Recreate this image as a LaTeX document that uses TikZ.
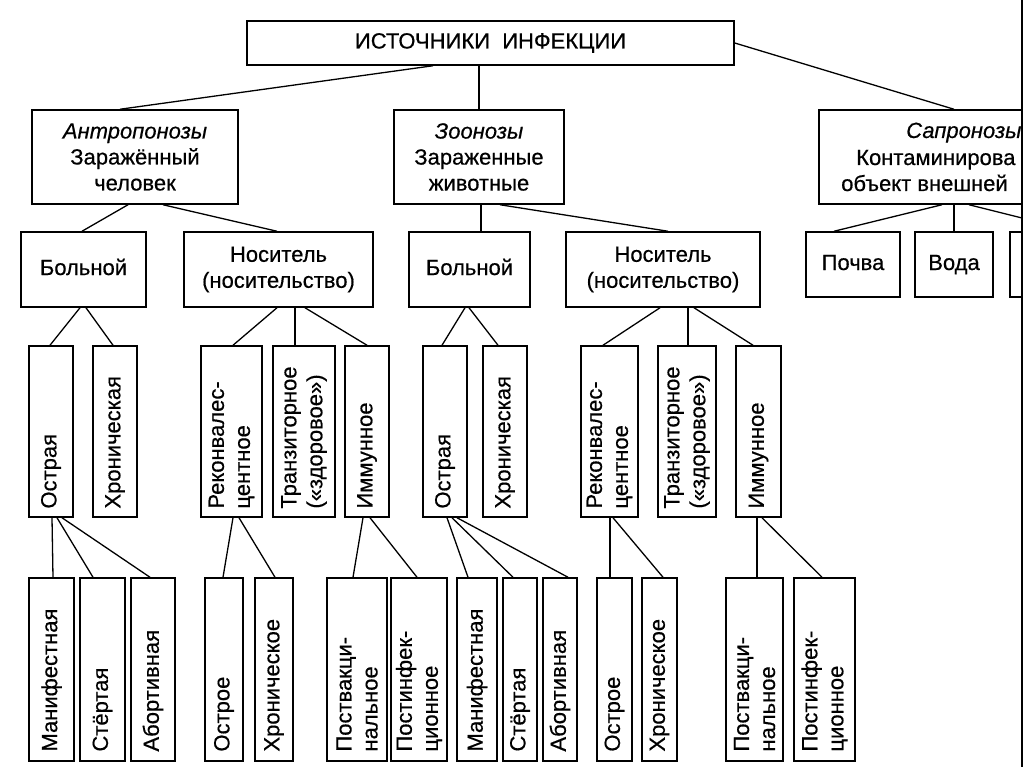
\documentclass[tikz,border=0pt]{standalone}
\usepackage{fontspec}
\setmainfont{Liberation Sans}[UprightFeatures={FakeBold=0.5}, ItalicFeatures={FakeBold=0.5}]
\usetikzlibrary{calc}
\newcommand\myfs{\fontsize{22}{26}\selectfont}
\newcommand\mkbox[6][]{\node[bx, #1, minimum width={#4-#2}, minimum height={#5-#3}] (#2) at ({(#3+#5)/2},{(#4+#6)/2}) {};}
\newcommand\mkhbox[7][]{\node[bx, #1, minimum width={#5-#3}, minimum height={#6-#4}] (#2) at ({(#3+#5)/2},{(#4+#6)/2}) {#7};}
\newcommand\mkvbox[7]{\node[bx, minimum width={#4-#2}, minimum height={#5-#3}] (#1) at ({(#2+#4)/2},{(#3+#5)/2}) {};
  \node[vt] (#1-t) at ([yshift=#7pt]#1.south) {#6};}
\newcommand\conn[4]{\draw[ln] (#1.south -| #2,0) -- (#3.north -| #4,0);}
\tikzset{
  bx/.style={draw, line width=1.5pt, inner sep=0pt, align=center, font=\myfs},
  one/.style={text height=16pt, text depth=5pt},
  vt/.style={rotate=90, anchor=west, align=left, inner sep=0pt, font=\myfs},
  ln/.style={line width=1.3pt},
  tx/.style={anchor=base west, inner sep=0pt, font=\myfs},
}
\begin{document}
\begin{tikzpicture}[x=1pt,y=-1pt]
\useasboundingbox (0,0) rectangle (1024,767);
\begin{scope}
\clip (0,0) rectangle (1021,767);
% level 0
\mkhbox[one]{top}{247}{21}{734}{65}{ИСТОЧНИКИ\ \ ИНФЕКЦИИ}
% level 1
\mkhbox{ant}{32}{110}{238}{204}{\textit{Антропонозы}\\Заражённый\\человек}
\mkhbox{zoo}{394}{110}{564}{204}{\textit{Зоонозы}\\Зараженные\\животные}
\mkhbox{sap}{819}{110}{1100}{204}{}
\node[tx] (sap-a) at (906,138) {\textit{Сапронозы}};
\node[tx] (sap-b) at (856,165) {Контаминирова};
\node[tx] (sap-c) at (841,191) {объект внешней};
% level 2
\mkhbox[one]{bol1}{21}{232}{146}{307}{Больной}
\mkhbox{nos1}{184}{232}{373}{307}{Носитель\\(носительство)}
\mkhbox[one]{bol2}{409}{232}{530}{307}{Больной}
\mkhbox{nos2}{566}{232}{760}{307}{Носитель\\(носительство)}
\mkhbox[one]{poch}{806}{232}{900}{297}{Почва}
\mkhbox[one]{voda}{915}{232}{993}{297}{Вода}
\mkhbox{sap3}{1010}{232}{1100}{297}{}
% level 3
\mkvbox{ostr1}{29}{346}{73}{517}{Острая}{9}
\mkvbox{hron1}{93}{346}{137}{517}{Хроническая}{9}
\mkvbox{rek1}{201}{346}{262}{517}{Реконвалес-\\центное}{9}
\mkvbox{tr1}{273}{346}{335}{517}{Транзиторное\\(«здоровое»)}{9}
\mkvbox{imm1}{345}{346}{389}{517}{Иммунное}{9}
\mkvbox{ostr2}{423}{346}{467}{517}{Острая}{9}
\mkvbox{hron2}{483}{346}{527}{517}{Хроническая}{9}
\mkvbox{rek2}{581}{346}{638}{517}{Реконвалес-\\центное}{9}
\mkvbox{tr2}{658}{346}{716}{517}{Транзиторное\\(«здоровое»)}{9}
\mkvbox{imm2}{736}{346}{781}{517}{Иммунное}{9}
% level 4
\mkvbox{man1}{29}{578}{74}{761}{Манифестная}{10}
\mkvbox{st1}{80}{578}{125}{761}{Стёртая}{10}
\mkvbox{ab1}{131}{578}{175}{761}{Абортивная}{10}
\mkvbox{o1}{205}{578}{243}{761}{Острое}{10}
\mkvbox{h1}{255}{578}{293}{761}{Хроническое}{10}
\mkvbox{pv1}{327}{578}{387}{761}{Поствакци-\\нальное}{10}
\mkvbox{pi1}{391}{578}{447}{761}{Постинфек-\\ционное}{10}
\mkvbox{man2}{457}{578}{497}{761}{Манифестная}{10}
\mkvbox{st2}{503}{578}{537}{761}{Стёртая}{10}
\mkvbox{ab2}{543}{578}{577}{761}{Абортивная}{10}
\mkvbox{o2}{597}{578}{632}{761}{Острое}{10}
\mkvbox{h2}{642}{578}{677}{761}{Хроническое}{10}
\mkvbox{pv2}{726}{578}{783}{761}{Поствакци-\\нальное}{10}
\mkvbox{pi2}{794}{578}{855}{761}{Постинфек-\\ционное}{10}
% connectors level 0-1
\conn{top}{433}{ant}{120}
\conn{top}{479}{zoo}{479}
\draw[ln] (top.east) -- (sap.north -| 954,0);
% level 1-2
\conn{ant}{128}{bol1}{82}
\conn{ant}{163}{nos1}{277}
\conn{zoo}{481}{bol2}{481}
\conn{zoo}{500}{nos2}{668}
\conn{sap}{942}{poch}{834}
\conn{sap}{954}{voda}{954}
\conn{sap}{969}{sap3}{1075}
% level 2-3
\conn{bol1}{80}{ostr1}{50}
\conn{bol1}{86}{hron1}{113}
\conn{nos1}{277}{rek1}{233}
\conn{nos1}{295}{tr1}{295}
\conn{nos1}{305}{imm1}{367}
\conn{bol2}{465}{ostr2}{442}
\conn{bol2}{469}{hron2}{498}
\conn{nos2}{660}{rek2}{603}
\conn{nos2}{688}{tr2}{688}
\conn{nos2}{694}{imm2}{753}
% level 3-4
\conn{ostr1}{52}{man1}{53}
\conn{ostr1}{57}{st1}{93}
\conn{ostr1}{62}{ab1}{150}
\conn{rek1}{233}{o1}{223}
\conn{rek1}{239}{h1}{275}
\conn{imm1}{363}{pv1}{353}
\conn{imm1}{370}{pi1}{417}
\conn{ostr2}{447}{man2}{468}
\conn{ostr2}{452}{st2}{513}
\conn{ostr2}{457}{ab2}{568}
\conn{rek2}{610}{o2}{610}
\conn{rek2}{613}{h2}{663}
\conn{imm2}{757}{pv2}{757}
\conn{imm2}{762}{pi2}{822}
\end{scope}
\coordinate (edgeT) at (1022,0);
\coordinate (edgeB) at (1022,767);
\draw[line width=1.6pt] (edgeT) -- (edgeB);
\end{tikzpicture}
\end{document}
